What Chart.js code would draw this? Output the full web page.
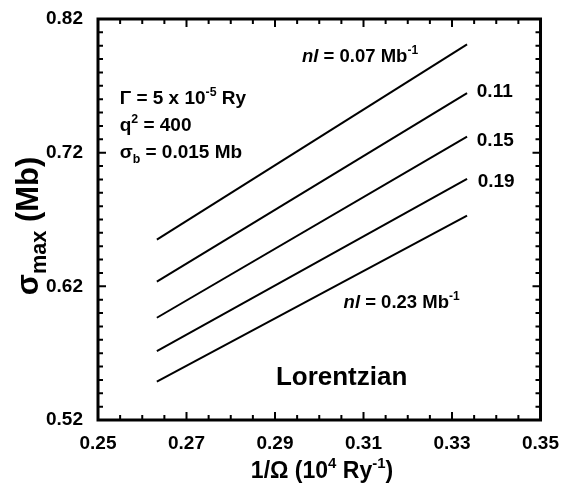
<!DOCTYPE html>
<html>
<head>
<meta charset="utf-8">
<script src="https://cdn.jsdelivr.net/npm/chart.js@4/dist/chart.umd.min.js"></script>
<style>
  html, body { margin: 0; background: #fff; }
  #wrap { width: 563px; height: 485px; }
</style>
</head>
<body>
<div id="wrap"><canvas id="sigmaChart"></canvas></div>
<script>
// 1/Omega (10^4 Ry^-1) at the two ends of each curve
const invOmega = [0.2633, 0.3334];
// sigma_max (Mb) for each nl value
const nlValues = ['0.07', '0.11', '0.15', '0.19', '0.23'];
const sigma007 = [0.655, 0.801];
const sigma011 = [0.6235, 0.7646];
const sigma015 = [0.5965, 0.732];
const sigma019 = [0.5716, 0.7003];
const sigma023 = [0.5487, 0.6729];
const xTicks = [0.25, 0.27, 0.29, 0.31, 0.33, 0.35];
const yTicks = [0.52, 0.62, 0.72, 0.82];

const FONT = '"Liberation Sans", Arial, Helvetica, sans-serif';
const series = [sigma007, sigma011, sigma015, sigma019, sigma023];

// text with superscripts / subscripts / italics
function drawRich(ctx, parts, x, y, size, align, small) {
  small = small || 0.65;
  const pieces = parts.map(p => {
    const [t, mode] = typeof p === 'string' ? [p, ''] : p;
    const s = (mode === 'sup' || mode === 'sub') ? size * small : size;
    const font = (mode === 'i' ? 'italic ' : '') + 'bold ' + s + 'px ' + FONT;
    ctx.font = font;
    return { t, mode, font, w: ctx.measureText(t).width };
  });
  const total = pieces.reduce((a, p) => a + p.w, 0);
  let cx = align === 'center' ? x - total / 2 : x;
  ctx.textAlign = 'left';
  ctx.textBaseline = 'alphabetic';
  pieces.forEach(p => {
    ctx.font = p.font;
    let dy = 0;
    if (p.mode === 'sup') dy = -size * 0.42;
    if (p.mode === 'sub') dy = size * 0.25;
    ctx.fillText(p.t, cx, y + dy);
    cx += p.w;
  });
}

const framePlugin = {
  id: 'frame',
  afterDraw(chart) {
    const { ctx, chartArea: a, scales: { x, y } } = chart;
    ctx.save();
    ctx.strokeStyle = '#000';
    ctx.fillStyle = '#000';

    // inward ticks on all four sides
    ctx.lineWidth = 2;
    ctx.beginPath();
    for (let i = 0; i <= 20; i++) {
      const v = 0.25 + i * 0.005;
      const px = x.getPixelForValue(v);
      const len = i % 4 === 0 ? 8 : 5;
      ctx.moveTo(px, a.bottom); ctx.lineTo(px, a.bottom - len);
      ctx.moveTo(px, a.top); ctx.lineTo(px, a.top + len);
    }
    for (let i = 0; i <= 30; i++) {
      const v = 0.52 + i * 0.01;
      const py = y.getPixelForValue(v);
      const len = i % 10 === 0 ? 8 : 5;
      ctx.moveTo(a.left, py); ctx.lineTo(a.left + len, py);
      ctx.moveTo(a.right, py); ctx.lineTo(a.right - len, py);
    }
    ctx.stroke();

    // thick frame
    ctx.lineWidth = 3;
    ctx.strokeRect(a.left, a.top, a.right - a.left, a.bottom - a.top);

    const X = v => x.getPixelForValue(v);
    const Y = v => y.getPixelForValue(v);

    drawRich(ctx, ['Γ = 5 x 10', ['-5', 'sup'], ' Ry'], X(0.2549), Y(0.7564), 19);
    drawRich(ctx, ['q', ['2', 'sup'], ' = 400'], X(0.2549), Y(0.7362), 19);
    drawRich(ctx, ['σ', ['b', 'sub'], ' = 0.015 Mb'], X(0.2549), Y(0.716), 19);

    drawRich(ctx, [['nl', 'i'], ' = ' + nlValues[0] + ' Mb', ['-1', 'sup']], X(0.2961), Y(0.7878), 18.5);
    drawRich(ctx, [nlValues[1]], X(0.3356), Y(0.7617), 19);
    drawRich(ctx, [nlValues[2]], X(0.3356), Y(0.725), 19);
    drawRich(ctx, [nlValues[3]], X(0.3358), Y(0.6943), 19);
    drawRich(ctx, [['nl', 'i'], ' = ' + nlValues[4] + ' Mb', ['-1', 'sup']], X(0.3055), Y(0.6038), 18.5);

    drawRich(ctx, ['Lorentzian'], X(0.2902), Y(0.5462), 26);

    // axis titles
    drawRich(ctx, ['1/Ω (10', ['4', 'sup'], ' Ry', ['-1', 'sup'], ')'], 322, 478, 23, 'center');
    ctx.translate(38, 226);
    ctx.rotate(-Math.PI / 2);
    drawRich(ctx, ['σ', ['max', 'sub'], ' (Mb)'], 0, 0, 31, 'center', 0.7);
    ctx.restore();
  }
};

const ctx = document.getElementById('sigmaChart').getContext('2d');
const sigmaChart = new Chart(ctx, {
  type: 'scatter',
  data: {
    datasets: series.map((s, i) => ({
      label: 'nl = ' + nlValues[i],
      data: invOmega.map((v, j) => ({ x: v, y: s[j] })),
      showLine: true,
      borderColor: '#000',
      borderWidth: 2,
      pointRadius: 0,
      fill: false
    }))
  },
  options: {
    responsive: true,
    maintainAspectRatio: false,
    animation: false,
    layout: { padding: { top: 19, right: 20, bottom: 0, left: 0 } },
    scales: {
      x: {
        type: 'linear',
        min: 0.25,
        max: 0.35,
        afterBuildTicks: s => { s.ticks = xTicks.map(v => ({ value: v })); },
        afterFit: s => { s.height = 65; },
        grid: { display: false },
        border: { display: false },
        ticks: {
          padding: 4,
          color: '#000',
          font: { family: FONT, size: 19, weight: 'bold' },
          callback: v => v.toFixed(2),
          maxRotation: 0
        }
      },
      y: {
        type: 'linear',
        min: 0.52,
        max: 0.82,
        afterBuildTicks: s => { s.ticks = yTicks.map(v => ({ value: v })); },
        afterFit: s => { s.width = 98; },
        grid: { display: false },
        border: { display: false },
        ticks: {
          padding: 7,
          color: '#000',
          font: { family: FONT, size: 19, weight: 'bold' },
          callback: v => v.toFixed(2)
        }
      }
    },
    plugins: {
      legend: { display: false },
      tooltip: { enabled: false }
    }
  },
  plugins: [framePlugin]
});
</script>
</body>
</html>
